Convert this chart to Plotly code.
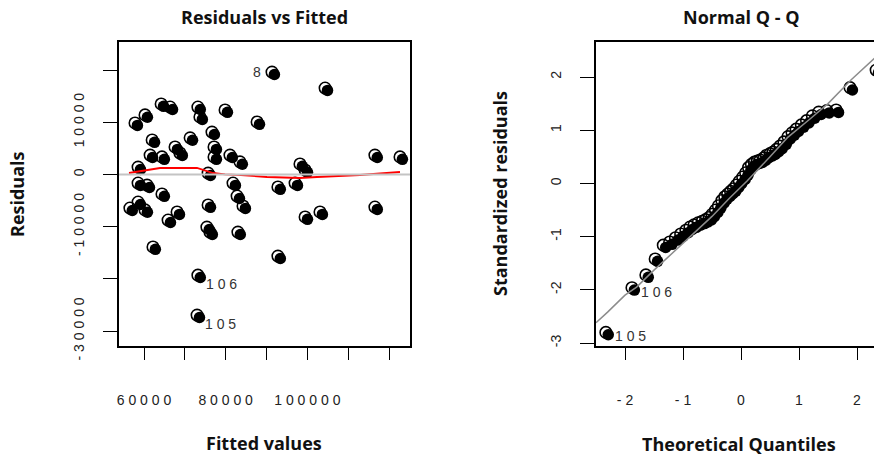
import plotly.graph_objects as go

W, H = 874, 455
SP = " "  # spacing between characters of tick labels (R-style spread text)

# ---------------- Residuals vs Fitted data ----------------
fitted = [64200, 66400, 73200, 73700, 57800, 60250, 62000, 61500, 64400, 67600,
          68800, 71300, 76650, 77150, 77150, 58550, 58550, 60750, 64400, 75700,
          56550, 58550, 60250, 65900, 68100, 75700, 75400, 76150, 62200, 73200,
          73000, 82800, 84250, 83000, 99450, 103100, 116550, 92800, 91350, 79850,
          87700, 81050, 83500, 98200, 99450, 81800, 92800, 97000, 104350, 116550,
          122700]
residuals = [13500, 12900, 12900, 11000, 9850, 11400, 6600, 3700, 3350, 5250,
             4100, 7000, 8100, 5250, 3350, 1400, -1650, -2050, -3750, 250,
             -6450, -5300, -6800, -8750, -7200, -5850, -10100, -11050, -13900, -19300,
             -26950, -4150, -6050, -11050, -8150, -7200, -6250, -15650, 19600, 12350,
             10050, 3700, 2400, 2000, 850, -1650, -2400, -1650, 16550, 3700,
             3350]
smooth_x = [56325, 59020, 63918, 72980, 74449, 76898, 79837, 82776, 90123,
            98204, 102367, 112898, 122694]
smooth_y = [268, 651, 1226, 1226, 843, 268, 0, -77, -498, -690, -498, -115, 460]
rv_labels = {"8": 38, "106": 29, "105": 30}   # label -> point index

rv_xticks = [60000, 70000, 80000, 90000, 100000, 110000, 120000]
rv_xtext = ["60000", "", "80000", "", "100000", "", ""]
rv_yticks = [-30000, -20000, -10000, 0, 10000, 20000]
rv_ytext = ["-30000", "", "-10000", "0", "10000", ""]

# ---------------- Normal Q-Q data ----------------
theo_q = [-2.33, -1.88, -1.64, -1.48, -1.34, -1.23, -1.13, -1.04, -0.95, -0.88,
          -0.81, -0.74, -0.67, -0.61, -0.55, -0.50, -0.44, -0.39, -0.33, -0.28,
          -0.23, -0.18, -0.13, -0.08, -0.03, 0.03, 0.08, 0.13, 0.18, 0.23,
          0.28, 0.33, 0.39, 0.44, 0.50, 0.55, 0.61, 0.67, 0.74, 0.81,
          0.88, 0.95, 1.04, 1.13, 1.23, 1.34, 1.48, 1.64, 1.88, 2.33]
std_resid = [-2.80, -1.96, -1.72, -1.42, -1.16, -1.10, -1.02, -0.95, -0.88, -0.82,
             -0.78, -0.74, -0.71, -0.68, -0.64, -0.58, -0.50, -0.42, -0.32, -0.25,
             -0.20, -0.15, -0.10, -0.03, 0.04, 0.12, 0.20, 0.30, 0.36, 0.40,
             0.42, 0.44, 0.48, 0.53, 0.56, 0.59, 0.64, 0.70, 0.78, 0.88,
             0.95, 1.02, 1.10, 1.18, 1.27, 1.34, 1.37, 1.38, 1.80, 2.13]
qq_line_x = [-2.5, -2.3, -2.0, -1.8, -1.5, -1.2, -0.9, -0.5, -0.2, 0.1, 0.5, 0.8,
             1.2, 1.5, 1.9, 2.3]
qq_line_y = [-2.62, -2.42, -2.1, -1.95, -1.63, -1.33, -1.02, -0.62, -0.28, 0.04,
             0.5, 0.86, 1.22, 1.5, 1.95, 2.35]
qq_labels = {"8": 49, "106": 1, "105": 0}

qq_xticks = [-2, -1, 0, 1, 2]
qq_xtext = ["-2", "-1", "0", "1", "2"]
qq_yticks = [-3, -2, -1, 0, 1, 2]
qq_ytext = ["-3", "-2", "-1", "0", "1", "2"]


def spread(s):
    return SP.join(list(s))


# ---------------- geometry (pixels) ----------------
L_box = (119, 410)
R_box = (596, 874)
TOP, BOT = 42, 346
rv_xr = [53877, 125143]
rv_yr = [-32874, 25364]
qq_xr = [-2.5, 2.293]
qq_yr = [-3.056, 2.658]

NARROW = "Liberation Sans Narrow, Liberation Sans, Arial, sans-serif"
BOLD = "Open Sans, Noto Sans, DejaVu Sans, sans-serif"


def px_to_dx(xr, box, px):
    return px * (xr[1] - xr[0]) / (box[1] - box[0])


def px_to_dy(yr, px):
    return px * (yr[1] - yr[0]) / (BOT - TOP)


fig = go.Figure()

OFF = 2.4   # offset of filled disc vs open ring, px
MS = 11.5   # marker size, px


def add_points(xs, ys, xr, yr, box, xa, ya):
    dx = px_to_dx(xr, box, OFF)
    dy = px_to_dy(yr, OFF)
    fig.add_trace(go.Scatter(x=xs, y=ys, mode="markers", xaxis=xa, yaxis=ya,
                             marker=dict(symbol="circle-open", size=MS, color="black",
                                         line=dict(width=1.6, color="black")),
                             hoverinfo="skip", showlegend=False))
    fig.add_trace(go.Scatter(x=[v + dx for v in xs], y=[v - dy for v in ys],
                             mode="markers", xaxis=xa, yaxis=ya,
                             marker=dict(symbol="circle", size=MS, color="black",
                                         line=dict(width=0)),
                             hoverinfo="skip", showlegend=False))


add_points(fitted, residuals, rv_xr, rv_yr, L_box, "x", "y")
fig.add_trace(go.Scatter(x=smooth_x, y=smooth_y, mode="lines", xaxis="x", yaxis="y",
                         line=dict(color="#ff0000", width=1.8), hoverinfo="skip",
                         showlegend=False))
fig.add_trace(go.Scatter(x=rv_xr, y=[0, 0], mode="lines", xaxis="x", yaxis="y",
                         line=dict(color="#c4c4c4", width=2), hoverinfo="skip",
                         showlegend=False))

add_points(theo_q, std_resid, qq_xr, qq_yr, R_box, "x2", "y2")
fig.add_trace(go.Scatter(x=qq_line_x, y=qq_line_y, mode="lines", xaxis="x2", yaxis="y2",
                         line=dict(color="#8c8c8c", width=1.5), hoverinfo="skip",
                         showlegend=False))

ydom = [1 - BOT / H, 1 - TOP / H]
tickfont = dict(family=NARROW, size=14, color="#222222")
axis_common = dict(showgrid=False, zeroline=False, showline=True, linecolor="black",
                   linewidth=1.6, ticks="outside", tickcolor="black", tickwidth=1.4,
                   tickfont=tickfont, fixedrange=True, automargin=False)

fig.update_layout(
    template="none",
    width=W, height=H, margin=dict(l=0, r=0, t=0, b=0, pad=0, autoexpand=False),
    paper_bgcolor="white", plot_bgcolor="white", showlegend=False,
    xaxis=dict(domain=[L_box[0] / W, L_box[1] / W], range=rv_xr, anchor="y",
               tickvals=rv_xticks, ticktext=[spread(t) for t in rv_xtext], ticklen=12,
               mirror=True, ticklabelstandoff=28, **axis_common),
    yaxis=dict(domain=ydom, range=rv_yr, anchor="x", tickvals=rv_yticks,
               ticktext=[spread(t) for t in rv_ytext], ticklen=14, tickangle=-90,
               mirror=True, ticklabelstandoff=14, **axis_common),
    xaxis2=dict(domain=[R_box[0] / W, 1.0], range=qq_xr, anchor="y2",
                tickvals=qq_xticks, ticktext=[spread(t) for t in qq_xtext], ticklen=12,
                mirror=True, ticklabelstandoff=28, **axis_common),
    yaxis2=dict(domain=ydom, range=qq_yr, anchor="x2", tickvals=qq_yticks,
                ticktext=qq_ytext, ticklen=14, tickangle=-90, mirror=False,
                ticklabelstandoff=14, **axis_common),
)


# titles and axis titles
def ann(text, xpx, ypx, angle=0, size=18):
    fig.add_annotation(text=text, x=xpx / W, y=1 - ypx / H, xref="paper", yref="paper",
                       showarrow=False, textangle=angle, xanchor="center", yanchor="middle",
                       font=dict(family=BOLD, size=size, color="#111111"))


ann("<b>Residuals vs Fitted</b>", 264, 17)
ann("<b>Fitted values</b>", 264, 443)
ann("<b>Residuals</b>", 17, 194, angle=-90)
ann("<b>Normal Q - Q</b>", 741, 17)
ann("<b>Theoretical Quantiles</b>", 739, 444)
ann("<b>Standardized residuals</b>", 500, 194, angle=-90)

# point index labels
labfont = dict(family=NARROW, size=14, color="#333333")
for text, i in rv_labels.items():
    right = text == "8"
    fig.add_annotation(text=spread(text), x=fitted[i], y=residuals[i], xref="x", yref="y",
                       showarrow=False, xanchor="right" if right else "left",
                       yanchor="middle", xshift=-9 if right else 6,
                       yshift=0 if right else -9, font=labfont)
for text, i in qq_labels.items():
    right = text == "8"
    fig.add_annotation(text=spread(text), x=theo_q[i], y=std_resid[i], xref="x2", yref="y2",
                       showarrow=False, xanchor="right" if right else "left",
                       yanchor="middle", xshift=-8 if right else 7,
                       yshift=0 if right else -4, font=labfont)

fig.write_html("out.html")
